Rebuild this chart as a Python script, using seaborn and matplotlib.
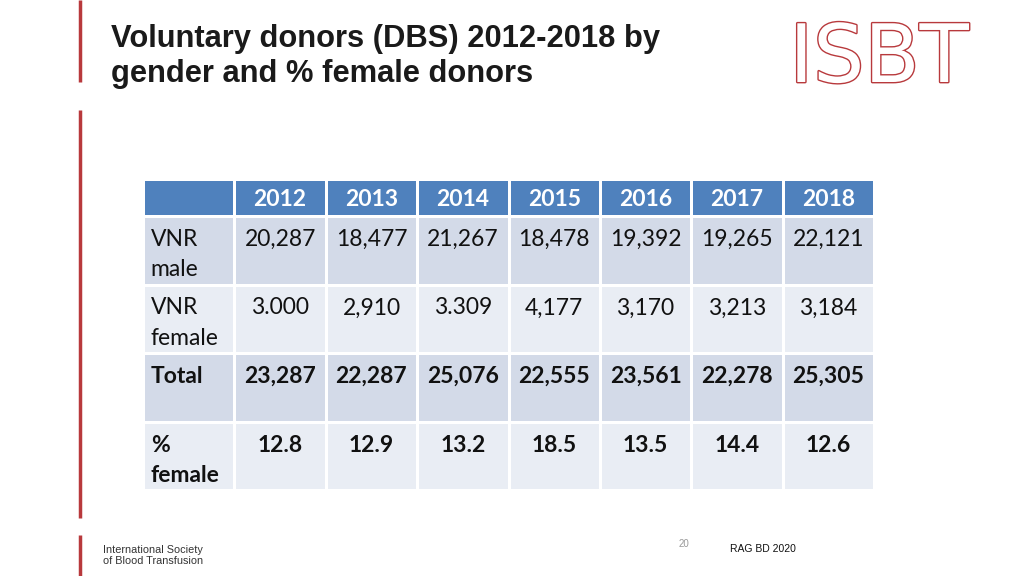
import numpy as np
import pandas as pd
import matplotlib.pyplot as plt
import matplotlib.patheffects as pe
from matplotlib.colors import ListedColormap
import seaborn as sns

# table content
years = ['2012', '2013', '2014', '2015', '2016', '2017', '2018']
row_labels = ['VNR\nmale', 'VNR\nfemale', 'Total', '%\nfemale']
vnr_male = ['20,287', '18,477', '21,267', '18,478', '19,392', '19,265', '22,121']
vnr_female = ['3.000', '2,910', '3.309', '4,177', '3,170', '3,213', '3,184']
total = ['23,287', '22,287', '25,076', '22,555', '23,561', '22,278', '25,305']
pct_female = ['12.8', '12.9', '13.2', '18.5', '13.5', '14.4', '12.6']
bold_rows = [False, False, True, True]

body = pd.DataFrame([vnr_male, vnr_female, total, pct_female], index=row_labels, columns=years)

sns.set_theme(style='white')
plt.rcParams['font.family'] = ['Lato', 'DejaVu Sans']

W, H = 1024, 576
fig = plt.figure(figsize=(10.24, 5.76), dpi=100)
fig.patch.set_facecolor('white')

def fax(x0, y0, x1, y1):
    return fig.add_axes([x0 / W, 1 - y1 / H, (x1 - x0) / W, (y1 - y0) / H])

# background / decoration axes in pixel coords
bg = fax(0, 0, W, H)
bg.set_xlim(0, W)
bg.set_ylim(H, 0)
bg.axis('off')
red = '#B8393C'
for y0, y1 in [(0, 82), (110, 518), (535, 576)]:
    bg.plot([80, 80], [y0, y1], color=red, lw=2.5, solid_capstyle='butt')

bg.text(111, 39, 'Voluntary donors (DBS) 2012-2018 by', fontsize=22.2, fontweight='bold',
        family='Liberation Sans', color='#1a1a1a', va='center', ha='left')
bg.text(111, 74, 'gender and % female donors', fontsize=22.2, fontweight='bold',
        family='Liberation Sans', color='#1a1a1a', va='center', ha='left')

logo = bg.text(879, 60, 'ISBT', fontsize=58, family='DejaVu Sans', color='white',
               ha='center', va='center')
logo.set_path_effects([pe.Stroke(linewidth=2.0, foreground=red), pe.Normal()])

bg.text(103, 550, 'International Society', fontsize=7.8, family='Liberation Sans',
        color='#333333', va='center')
bg.text(103, 561, 'of Blood Transfusion', fontsize=7.8, family='Liberation Sans',
        color='#333333', va='center')
bg.text(684, 544, '20', fontsize=7, family='Liberation Sans', color='#999999', ha='center', va='center')
bg.text(730, 549, 'RAG BD 2020', fontsize=7.5, family='Liberation Sans', color='#111111', va='center')

# header row
hx = fax(143, 179, 874, 216)
hdr = np.zeros((1, len(years) + 1))
sns.heatmap(hdr, ax=hx, cmap=ListedColormap(['#4F81BD']), cbar=False,
            linewidths=1, linecolor='white', xticklabels=False, yticklabels=False)
for j, yr in enumerate(years):
    hx.text(j + 1.5, 0.56, yr, ha='center', va='center', color='white',
            fontsize=16.5, fontweight='bold')

# body rows
bx = fax(143, 216, 874, 490)
shade = np.array([[0] * 8, [1] * 8, [0] * 8, [1] * 8])
sns.heatmap(shade, ax=bx, cmap=ListedColormap(['#D3DAE8', '#E9EDF4']), cbar=False,
            linewidths=1, linecolor='white', xticklabels=False, yticklabels=False)
# rows are ~68.5 px tall; first text line sits ~23 px below the cell top, next line ~30 px lower
l1, gap = 23.5 / 68.5, 30.5 / 68.5
for i, lab in enumerate(body.index):
    w = 'bold' if bold_rows[i] else 'normal'
    for k, part in enumerate(lab.split('\n')):
        bx.text(0.085, i + l1 + k * gap, part, ha='left', va='center', fontsize=16.5,
                fontweight=w, color='#111111')
    for j, yr in enumerate(body.columns):
        bx.text(j + 1.5, i + l1, body.loc[lab, yr], ha='center', va='center',
                fontsize=16.5, fontweight=w, color='#111111')

fig.savefig('out.png', dpi=100)
